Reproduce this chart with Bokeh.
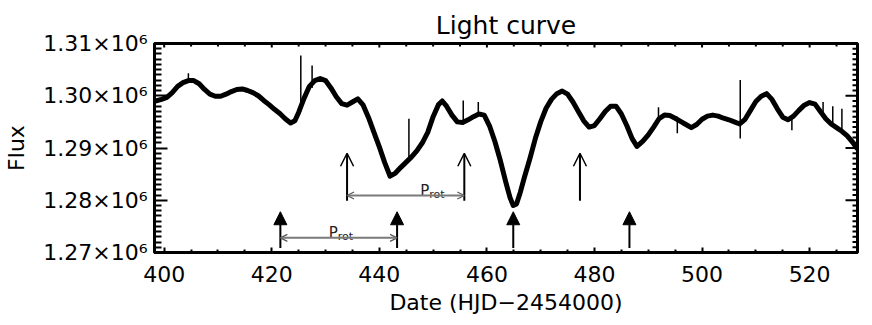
from bokeh.plotting import figure
from bokeh.models import (FixedTicker, Arrow, NormalHead, OpenHead,
                          ColumnDataSource, Range1d, LinearAxis)
from bokeh.embed import file_html
from bokeh.resources import INLINE
from bokeh.core.properties import value

# ---- light curve ----
day = [398.4, 399.5, 400.5, 401.5, 402.5, 403.5, 404.5, 405.5, 406.5, 407.5,
       408.5, 409.5, 410.5, 411.5, 412.5, 413.5, 414.5, 415.5, 416.5, 417.5,
       418.5, 419.5, 420.5, 421.5, 422.5, 423.5, 424.3, 425.0, 426.0, 427.0,
       428.0, 429.0, 430.0, 431.0, 432.0, 433.0, 434.0, 435.0, 436.0, 437.0,
       438.0, 439.0, 440.0, 441.0, 442.0, 443.0, 444.0, 445.0, 446.0, 447.0,
       448.0, 449.0, 450.0, 451.0, 451.7, 452.5, 453.5, 454.5, 455.5, 456.5,
       457.5, 458.5, 459.5, 460.5, 461.5, 462.5, 463.5, 464.3, 464.9, 465.5,
       466.2, 467.0, 468.0, 469.0, 470.0, 471.0, 472.0, 473.0, 474.0, 475.0,
       476.0, 477.0, 478.0, 479.0, 480.0, 481.0, 482.0, 483.0, 484.0, 485.0,
       486.0, 487.0, 487.9, 489.0, 490.0, 491.0, 492.0, 493.0, 494.0, 495.0,
       496.0, 497.0, 498.0, 499.0, 500.0, 501.0, 502.0, 503.0, 504.0, 505.0,
       506.0, 507.0, 508.0, 509.0, 510.0, 511.0, 512.0, 513.0, 514.0, 515.0,
       516.0, 517.0, 518.0, 519.0, 520.0, 521.0, 522.0, 523.0, 524.0, 525.0,
       526.0, 527.0, 528.0, 528.9]
flux = [1299000, 1299300, 1299700, 1300600, 1301800, 1302500, 1302900, 1302900, 1302300, 1301200,
        1300300, 1299900, 1299900, 1300300, 1300800, 1301200, 1301300, 1301000, 1300600, 1300000,
        1299100, 1298300, 1297400, 1296600, 1295600, 1294800, 1295200, 1296800, 1299500, 1301800,
        1302900, 1303300, 1302900, 1301500, 1299800, 1298500, 1298200, 1298800, 1299400, 1298200,
        1295800, 1293000, 1290200, 1287200, 1284600, 1285200, 1286300, 1287300, 1288300, 1289500,
        1291000, 1293000, 1296000, 1298300, 1299000, 1298000, 1296300, 1295000, 1294900, 1295400,
        1296000, 1296500, 1296300, 1294200, 1291200, 1287600, 1283500, 1280500, 1279000, 1279300,
        1281500, 1284500, 1288000, 1291800, 1295000, 1297600, 1299300, 1300400, 1300900, 1300300,
        1298800, 1297000, 1295200, 1294000, 1294300, 1295600, 1297000, 1298000, 1298000, 1296500,
        1294300, 1291800, 1290300, 1291300, 1292500, 1294000, 1295600, 1296300, 1296200, 1295700,
        1295100, 1294500, 1293900, 1294500, 1295500, 1296100, 1296300, 1296100, 1295700, 1295400,
        1295000, 1294600, 1295500, 1297200, 1298900, 1299900, 1300400, 1299300, 1297500, 1295900,
        1295400, 1296100, 1297200, 1298200, 1298700, 1298400, 1297000, 1295600, 1294600, 1293900,
        1293200, 1292300, 1291100, 1289800]

# isolated outliers (day, low, high)
spike_day = [404.5, 425.4, 427.5, 445.5, 455.6, 458.4, 491.9, 495.4, 507.1, 516.7, 522.5, 524.3, 526.0]
spike_lo = [1302500, 1297000, 1301500, 1287300, 1295000, 1296400, 1295800, 1292800, 1291800, 1293400, 1296400, 1294300, 1292800]
spike_hi = [1304300, 1307700, 1305800, 1295600, 1299100, 1298800, 1297800, 1296000, 1303000, 1295800, 1298800, 1298000, 1297500]

# ---- annotations ----
filled_day = [421.6, 443.3, 464.9, 486.5]
filled_base = 1270850
filled_tip = 1277800
open_day = [434.0, 455.8, 477.3]
open_base = 1279900
open_tip = 1289000
prot_start = [421.6, 434.0]
prot_end = [443.3, 455.8]
prot_level = [1272800, 1280900]
prot_text_day = [430.6, 447.6]
prot_text_level = [1273650, 1281700]

# ---- axes ----
x_lo, x_hi = 398.2, 528.9
y_lo, y_hi = 1270000, 1310000
x_ticks = [400, 420, 440, 460, 480, 500, 520]
x_minor = [405, 410, 415, 425, 430, 435, 445, 450, 455, 465, 470, 475,
           485, 490, 495, 505, 510, 515, 525]
y_ticks = [1270000, 1280000, 1290000, 1300000, 1310000]
y_labels = ["1.27×10⁶", "1.28×10⁶", "1.29×10⁶", "1.30×10⁶", "1.31×10⁶"]
y_minor = [v for v in range(1271000, 1310000, 1000) if v % 10000 != 0]

FONT = "DejaVu Sans"
FW, FH = 703, 209          # frame size in pixels
dx = (x_hi - x_lo) / FW    # data units per pixel
dy = (y_hi - y_lo) / FH

p = figure(frame_width=FW, frame_height=FH, output_backend="svg", toolbar_location=None,
           x_range=Range1d(x_lo, x_hi), y_range=Range1d(y_lo, y_hi),
           min_border_left=154, min_border_right=7, min_border_top=43, min_border_bottom=73,
           title="Light curve", x_axis_label="Date (HJD−2454000)", y_axis_label="Flux")
p.grid.visible = False
p.outline_line_color = "black"
p.outline_line_width = 3
p.background_fill_color = "white"
p.border_fill_color = "white"

p.title.align = "center"
p.title.text_font = FONT
p.title.text_font_size = "25px"
p.title.text_font_style = "normal"
p.title.text_color = "black"
p.title.standoff = 8

xa = p.xaxis[0]
ya = p.yaxis[0]
xa.ticker = FixedTicker(ticks=x_ticks, minor_ticks=x_minor)
ya.ticker = FixedTicker(ticks=y_ticks, minor_ticks=y_minor)
ya.major_label_overrides = {t: l for t, l in zip(y_ticks, y_labels)}
for ax in (xa, ya):
    ax.axis_line_width = 3
    ax.axis_line_color = "black"
    ax.major_label_text_font = FONT
    ax.major_label_text_font_size = "22px"
    ax.major_label_text_color = "black"
    ax.axis_label_text_font = FONT
    ax.axis_label_text_font_size = "22px"
    ax.axis_label_text_font_style = "normal"
    ax.axis_label_text_color = "black"
    ax.major_tick_out = 0
    ax.minor_tick_out = 0
    ax.major_tick_line_color = "black"
    ax.minor_tick_line_color = "black"
    ax.major_tick_line_width = 2
    ax.minor_tick_line_width = 2
xa.major_tick_in = 5
xa.minor_tick_in = 3
ya.major_tick_in = 13
ya.minor_tick_in = 7
xa.major_label_standoff = 13
xa.axis_label_standoff = 5
ya.major_label_standoff = 7
ya.axis_label_standoff = 11

# ticks on the right and top edges drawn as filled rectangles (screen-sized)
tick_kw = dict(fill_color="black", line_color=None)
p.rect(x=[x_hi] * len(y_ticks), y=y_ticks, width=24, height=2,
       width_units="screen", height_units="screen", **tick_kw)
p.rect(x=[x_hi] * len(y_minor), y=y_minor, width=10, height=2,
       width_units="screen", height_units="screen", **tick_kw)
p.rect(x=x_ticks, y=[y_hi] * len(x_ticks), width=2, height=8,
       width_units="screen", height_units="screen", **tick_kw)
p.rect(x=x_minor, y=[y_hi] * len(x_minor), width=2, height=6,
       width_units="screen", height_units="screen", **tick_kw)

# light curve
p.line(day, flux, line_color="black", line_width=5, line_join="round")
p.segment(x0=spike_day, y0=spike_lo, x1=spike_day, y1=spike_hi,
          line_color="black", line_width=1.5)

# filled arrows
fsrc = ColumnDataSource(dict(x=filled_day, y0=[filled_base] * len(filled_day),
                             y1=[filled_tip] * len(filled_day)))
p.add_layout(Arrow(source=fsrc, x_start="x", y_start="y0", x_end="x", y_end="y1",
                   line_color="black", line_width=2,
                   end=NormalHead(size=13, fill_color="black", line_color="black", line_width=1)))
# open arrows
osrc = ColumnDataSource(dict(x=open_day, y0=[open_base] * len(open_day),
                             y1=[open_tip] * len(open_day)))
p.add_layout(Arrow(source=osrc, x_start="x", y_start="y0", x_end="x", y_end="y1",
                   line_color="black", line_width=2,
                   end=OpenHead(size=13, line_color="black", line_width=1.5)))
# period double arrows
psrc = ColumnDataSource(dict(x0=prot_start, x1=prot_end, y=prot_level))
p.add_layout(Arrow(source=psrc, x_start="x0", y_start="y", x_end="x1", y_end="y",
                   line_color="#7a7a7a", line_width=2,
                   start=OpenHead(size=7, line_color="#555555", line_width=1.2),
                   end=OpenHead(size=7, line_color="#555555", line_width=1.2)))
p.text(x=prot_text_day, y=prot_text_level, text=["P", "P"], text_font=value(FONT),
       text_font_size="15px", text_color="#222222", text_baseline="alphabetic")
p.text(x=prot_text_day, y=prot_text_level, text=["rot", "rot"], text_font=value(FONT),
       text_font_size="11px", text_color="#222222", text_baseline="alphabetic",
       x_offset=9, y_offset=3)

open("out.html", "w").write(file_html(p, INLINE))
